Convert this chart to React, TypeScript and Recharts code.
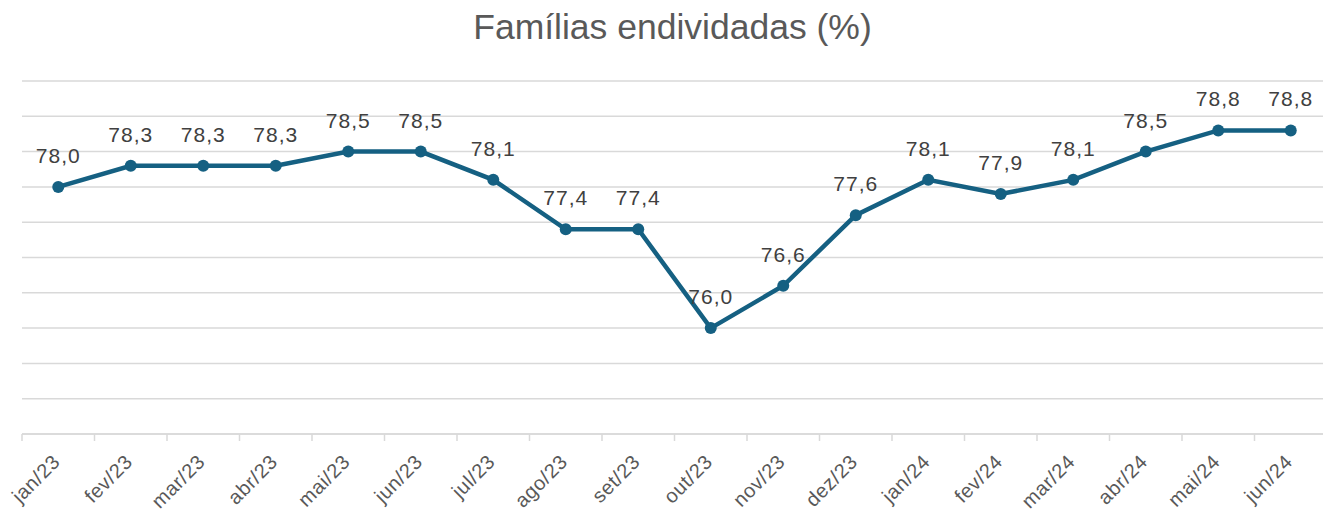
import React from 'react'
import { LineChart, Line, XAxis, YAxis, CartesianGrid, LabelList } from 'recharts'

const months = [
  'jan/23', 'fev/23', 'mar/23', 'abr/23', 'mai/23', 'jun/23', 'jul/23', 'ago/23', 'set/23',
  'out/23', 'nov/23', 'dez/23', 'jan/24', 'fev/24', 'mar/24', 'abr/24', 'mai/24', 'jun/24'
]
const endividadas = [
  78.0, 78.3, 78.3, 78.3, 78.5, 78.5, 78.1, 77.4, 77.4,
  76.0, 76.6, 77.6, 78.1, 77.9, 78.1, 78.5, 78.8, 78.8
]
const yTicks = [74.5, 75, 75.5, 76, 76.5, 77, 77.5, 78, 78.5, 79, 79.5]

const data = months.map((m, i) => ({ mes: m, valor: endividadas[i] }))

const W = 1323
const H = 513
const LEFT = 21 // plus 1px hidden y axis
const RIGHT = -4
const BAND = (W - LEFT - 1 - RIGHT) / months.length
const BLUE = '#156082'
const GRID = '#D9D9D9'
const FONT = 'Liberation Sans, Arial, sans-serif'

const XTick = (props: any) => {
  const { x, y, payload } = props
  const tx = x + 3
  const ty = y + 29
  return (
    <g>
      <line x1={x - BAND / 2} y1={y} x2={x - BAND / 2} y2={y + 7} stroke={GRID} strokeWidth={1.5} />
      <text
        x={tx}
        y={ty}
        textAnchor="end"
        transform={`rotate(-45 ${tx} ${ty})`}
        fontSize={20}
        letterSpacing={0.6}
        fill="#595959"
        fontFamily={FONT}
      >
        {payload.value}
      </text>
    </g>
  )
}

const EmptyTick = () => <g />

const ValueLabel = (props: any) => {
  const { x, y, value } = props
  return (
    <text
      x={x}
      y={y - 24}
      textAnchor="middle"
      fontSize={21}
      letterSpacing={1}
      fill="#404040"
      fontFamily={FONT}
    >
      {Number(value).toFixed(1).replace('.', ',')}
    </text>
  )
}

export default function App() {
  return (
    <div style={{ position: 'absolute', left: 0, top: 0, width: W, height: H, background: '#fff', overflow: 'hidden' }}>
      <div
        style={{
          position: 'absolute',
          top: 10,
          left: LEFT + 1,
          width: W - LEFT - 1,
          textAlign: 'center',
          fontSize: 35.5,
          lineHeight: '35px',
          color: '#595959',
          fontFamily: FONT
        }}
      >
        Famílias endividadas (%)
      </div>
      <LineChart width={W} height={H} data={data} margin={{ top: 81, right: RIGHT, left: LEFT, bottom: 0 }}>
        <CartesianGrid vertical={false} stroke={GRID} strokeWidth={1.5} />
        <XAxis
          dataKey="mes"
          height={79}
          padding={{ left: BAND / 2, right: BAND / 2 }}
          axisLine={{ stroke: GRID, strokeWidth: 1.5 }}
          tickLine={false}
          tickSize={0}
          tickMargin={0}
          interval={0}
          tick={<XTick />}
        />
        <YAxis
          width={1}
          type="number"
          domain={[74.5, 79.5]}
          ticks={yTicks}
          interval={0}
          axisLine={false}
          tickLine={false}
          tick={<EmptyTick />}
        />
        <Line
          type="linear"
          dataKey="valor"
          stroke={BLUE}
          strokeWidth={4.5}
          dot={{ r: 6, fill: BLUE, stroke: BLUE, strokeWidth: 0 }}
          activeDot={false}
          isAnimationActive={false}
        >
          <LabelList dataKey="valor" content={<ValueLabel />} />
        </Line>
      </LineChart>
    </div>
  )
}
